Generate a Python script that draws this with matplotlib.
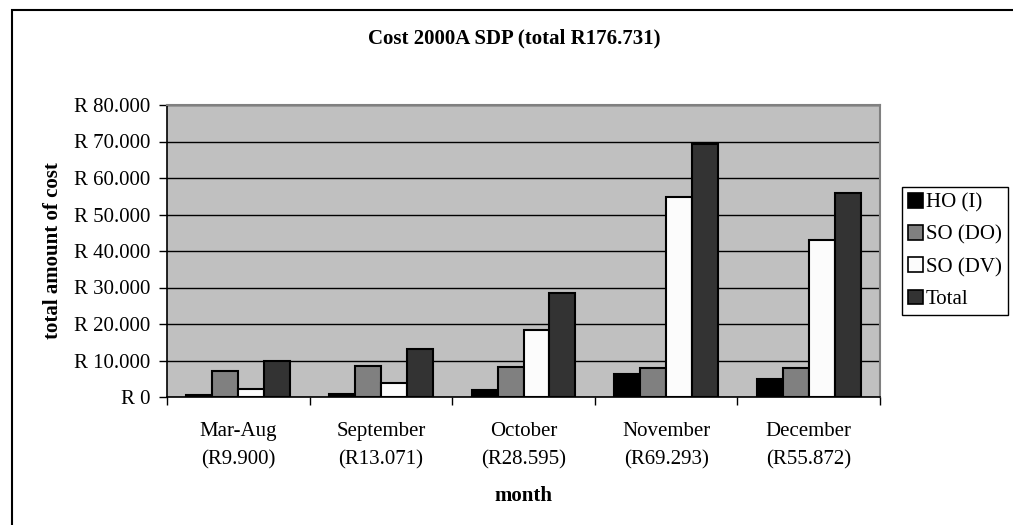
import matplotlib.pyplot as plt
import numpy as np
from matplotlib.patches import Rectangle, Patch

months = ['Mar-Aug\n(R9.900)', 'September\n(R13.071)', 'October\n(R28.595)',
          'November\n(R69.293)', 'December\n(R55.872)']
series_names = ['HO (I)', 'SO (DO)', 'SO (DV)', 'Total']
ho_i = [500, 900, 1900, 6400, 4900]
so_do = [7200, 8500, 8300, 8000, 7900]
so_dv = [2200, 3700, 18400, 54900, 43100]
total = [9900, 13071, 28595, 69293, 55872]
colors = ['#000000', '#808080', '#fcfcfc', '#333333']


def main():
    plt.rcParams['font.family'] = ['Liberation Serif', 'DejaVu Serif']
    fs = 15

    fig = plt.figure(figsize=(10.13, 5.25), dpi=100)
    # outer chart frame (runs off the right and bottom edge)
    fig.patches.append(Rectangle((11.5 / 1013, -0.1), 1.2, 1.1 - 9.5 / 525,
                                 transform=fig.transFigure, fill=False,
                                 edgecolor='black', linewidth=1.5))

    ax = fig.add_axes([167 / 1013, 1 - 397 / 525, (880 - 167) / 1013, (397 - 105) / 525])
    ax.set_facecolor('#c0c0c0')

    x = np.arange(len(months))
    w = 1 / 5.5
    data = [ho_i, so_do, so_dv, total]
    for i, vals in enumerate(data):
        ax.bar(x + (i - 1.5) * w, vals, w, color=colors[i], edgecolor='black',
               linewidth=1.5, zorder=3, label=series_names[i])

    ax.set_xlim(-0.5, len(months) - 0.5)
    ax.set_ylim(0, 80000)
    ax.set_yticks(np.arange(0, 80001, 10000))
    ax.set_yticklabels(['R 0'] + ['R %d.000' % (v // 1000) for v in range(10000, 80001, 10000)])
    ax.yaxis.grid(True, color='black', linewidth=1, zorder=1)
    ax.set_axisbelow(True)

    ax.set_xticks(x)
    ax.set_xticklabels(months, linespacing=1.62)
    ax.set_xticks(np.arange(-0.5, len(months), 1), minor=True)
    ax.tick_params(axis='x', which='major', length=0, pad=18, labelsize=fs)
    ax.tick_params(axis='x', which='minor', length=6, width=1, direction='out')
    ax.tick_params(axis='y', length=6, width=1, direction='out', labelsize=fs, pad=6)

    for s in ['top', 'right']:
        ax.spines[s].set_color('#808080')
        ax.spines[s].set_linewidth(1.5)
    ax.spines['left'].set_linewidth(1.2)
    ax.spines['bottom'].set_linewidth(1.2)

    ax.set_xlabel('month', fontsize=fs, fontweight='bold', labelpad=12)
    ax.set_ylabel('total amount of cost', fontsize=fs, fontweight='bold', labelpad=8)
    fig.text(0.508, 1 - 38 / 525, 'Cost 2000A SDP (total R176.731)', ha='center', va='center',
             fontsize=fs, fontweight='bold')

    handles = [Patch(facecolor=c, edgecolor='black', linewidth=1.2) for c in colors]
    fig.legend(handles, series_names, loc='upper left',
               bbox_to_anchor=(902 / 1013, 1 - 187 / 525), fontsize=fs,
               frameon=True, fancybox=False, edgecolor='black', framealpha=1,
               handlelength=0.7, handleheight=0.7, handletextpad=0.15,
               borderpad=0.3, labelspacing=0.6, borderaxespad=0)

    fig.savefig('out.png', dpi=100)


main()
